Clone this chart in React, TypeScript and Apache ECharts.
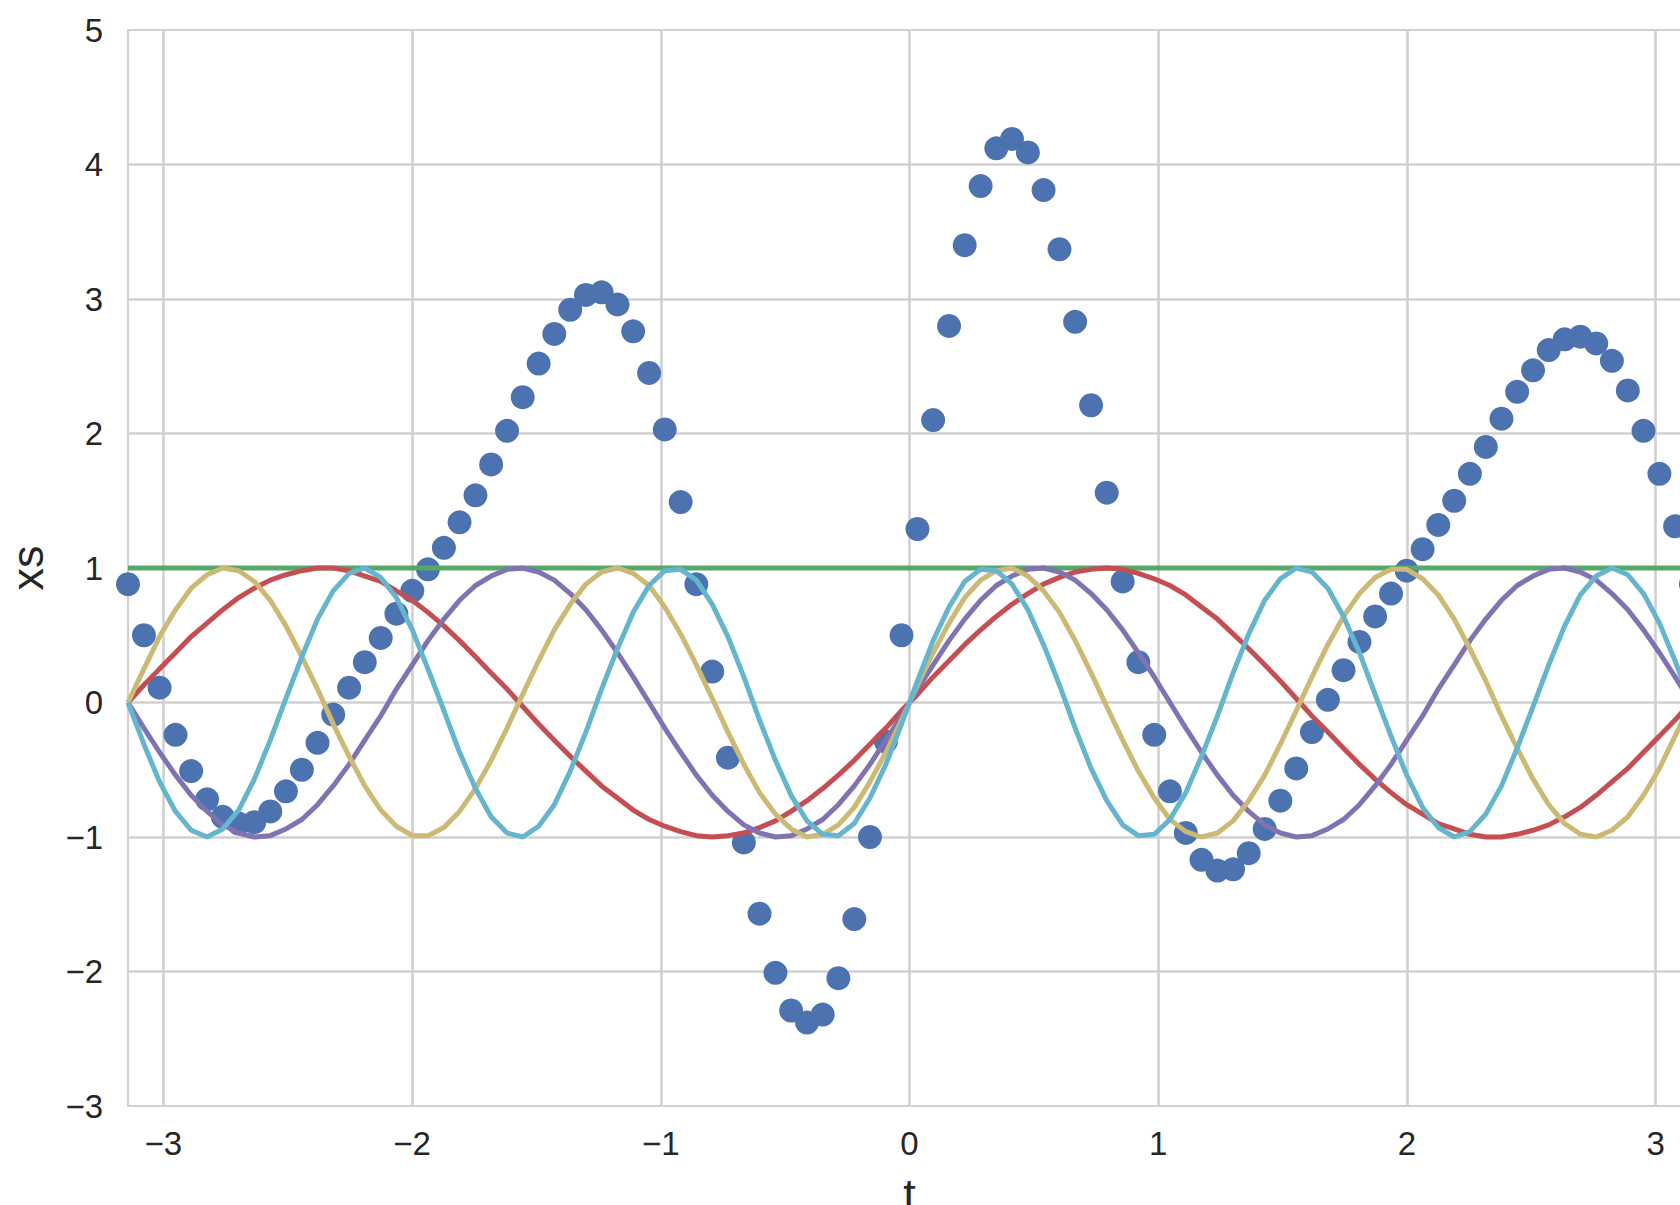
import React, { useEffect, useRef } from "react";
import * as echarts from "echarts";

// sample times t (from -pi to pi, 100 samples)
const tValues = [
  -3.142, -3.078, -3.015, -2.951, -2.888, -2.824, -2.761, -2.697, -2.634, -2.57,
  -2.507, -2.443, -2.38, -2.317, -2.253, -2.19, -2.126, -2.063, -1.999, -1.936,
  -1.872, -1.809, -1.745, -1.682, -1.618, -1.555, -1.491, -1.428, -1.364, -1.301,
  -1.238, -1.174, -1.111, -1.047, -0.984, -0.92, -0.857, -0.793, -0.73, -0.666,
  -0.603, -0.539, -0.476, -0.412, -0.349, -0.286, -0.222, -0.159, -0.095, -0.032,
  0.032, 0.095, 0.159, 0.222, 0.286, 0.349, 0.412, 0.476, 0.539, 0.603,
  0.666, 0.73, 0.793, 0.857, 0.92, 0.984, 1.047, 1.111, 1.174, 1.238,
  1.301, 1.364, 1.428, 1.491, 1.555, 1.618, 1.682, 1.745, 1.809, 1.872,
  1.936, 1.999, 2.063, 2.126, 2.19, 2.253, 2.317, 2.38, 2.443, 2.507,
  2.57, 2.634, 2.697, 2.761, 2.824, 2.888, 2.951, 3.015, 3.078, 3.142,
];

// blue dots (xs)
const xsValues = [
  0.88, 0.5, 0.11, -0.24, -0.51, -0.72, -0.85, -0.9, -0.89, -0.81,
  -0.66, -0.5, -0.3, -0.09, 0.11, 0.3, 0.48, 0.66, 0.83, 0.99,
  1.15, 1.34, 1.54, 1.77, 2.02, 2.27, 2.52, 2.74, 2.92, 3.03,
  3.05, 2.96, 2.76, 2.45, 2.03, 1.49, 0.88, 0.23, -0.41, -1.04,
  -1.57, -2.01, -2.29, -2.38, -2.32, -2.05, -1.61, -1.0, -0.29, 0.5,
  1.29, 2.1, 2.8, 3.4, 3.84, 4.12, 4.19, 4.09, 3.81, 3.37,
  2.83, 2.21, 1.56, 0.9, 0.3, -0.24, -0.66, -0.97, -1.17, -1.25,
  -1.24, -1.12, -0.94, -0.73, -0.49, -0.22, 0.02, 0.24, 0.45, 0.64,
  0.81, 0.98, 1.14, 1.32, 1.5, 1.7, 1.9, 2.11, 2.31, 2.47,
  2.62, 2.7, 2.72, 2.67, 2.54, 2.32, 2.02, 1.7, 1.31, 0.88,
];

// green line (constant level) endpoints
const greenLevel = [1, 1];

// red curve
const redValues = [
  0.0, 0.13, 0.25, 0.37, 0.49, 0.59, 0.69, 0.78, 0.85, 0.91,
  0.95, 0.98, 1.0, 1.0, 0.98, 0.94, 0.9, 0.83, 0.76, 0.67,
  0.57, 0.46, 0.34, 0.22, 0.1, -0.03, -0.16, -0.28, -0.4, -0.51,
  -0.62, -0.71, -0.8, -0.87, -0.92, -0.96, -0.99, -1.0, -0.99, -0.97,
  -0.93, -0.88, -0.81, -0.73, -0.64, -0.54, -0.43, -0.31, -0.19, -0.06,
  0.06, 0.19, 0.31, 0.43, 0.54, 0.64, 0.73, 0.81, 0.88, 0.93,
  0.97, 0.99, 1.0, 0.99, 0.96, 0.92, 0.87, 0.8, 0.71, 0.62,
  0.51, 0.4, 0.28, 0.16, 0.03, -0.1, -0.22, -0.34, -0.46, -0.57,
  -0.67, -0.76, -0.83, -0.9, -0.94, -0.98, -1.0, -1.0, -0.98, -0.95,
  -0.91, -0.85, -0.78, -0.69, -0.59, -0.49, -0.37, -0.25, -0.13, 0.0,
];

// purple curve
const purpleValues = [
  0.0, -0.19, -0.37, -0.54, -0.69, -0.81, -0.91, -0.97, -1.0, -0.99,
  -0.94, -0.87, -0.76, -0.62, -0.46, -0.28, -0.1, 0.1, 0.28, 0.46,
  0.62, 0.76, 0.87, 0.94, 0.99, 1.0, 0.97, 0.91, 0.81, 0.69,
  0.54, 0.37, 0.19,
  0.0, -0.19, -0.37, -0.54, -0.69, -0.81, -0.91, -0.97, -1.0, -0.99,
  -0.94, -0.87, -0.76, -0.62, -0.46, -0.28, -0.1, 0.1, 0.28, 0.46,
  0.62, 0.76, 0.87, 0.94, 0.99, 1.0, 0.97, 0.91, 0.81, 0.69,
  0.54, 0.37, 0.19,
  0.0, -0.19, -0.37, -0.54, -0.69, -0.81, -0.91, -0.97, -1.0, -0.99,
  -0.94, -0.87, -0.76, -0.62, -0.46, -0.28, -0.1, 0.1, 0.28, 0.46,
  0.62, 0.76, 0.87, 0.94, 0.99, 1.0, 0.97, 0.91, 0.81, 0.69,
  0.54, 0.37, 0.19,
  0.0,
];

// yellow curve
const yellowValues = [
  0.0, 0.25, 0.49, 0.69, 0.85, 0.95, 1.0, 0.98, 0.9, 0.76,
  0.57, 0.34, 0.1, -0.16, -0.4, -0.62, -0.8, -0.92, -0.99, -0.99,
  -0.93, -0.81, -0.64, -0.43, -0.19, 0.06, 0.31, 0.54, 0.73, 0.88,
  0.97, 1.0, 0.96, 0.87, 0.71, 0.51, 0.28, 0.03, -0.22, -0.46,
  -0.67, -0.83, -0.94, -1.0, -0.98, -0.91, -0.78, -0.59, -0.37, -0.13,
  0.13, 0.37, 0.59, 0.78, 0.91, 0.98, 1.0, 0.94, 0.83, 0.67,
  0.46, 0.22, -0.03, -0.28, -0.51, -0.71, -0.87, -0.96, -1.0, -0.97,
  -0.88, -0.73, -0.54, -0.31, -0.06, 0.19, 0.43, 0.64, 0.81, 0.93,
  0.99, 0.99, 0.92, 0.8, 0.62, 0.4, 0.16, -0.1, -0.34, -0.57,
  -0.76, -0.9, -0.98, -1.0, -0.95, -0.85, -0.69, -0.49, -0.25, 0.0,
];

// cyan curve
const cyanValues = [
  0.0, -0.31, -0.59, -0.81, -0.95, -1.0, -0.94, -0.8, -0.57, -0.28,
  0.03, 0.34, 0.62, 0.83, 0.96, 1.0, 0.93, 0.78, 0.54, 0.25,
  -0.06, -0.37, -0.64, -0.85, -0.97, -1.0, -0.92, -0.76, -0.51, -0.22,
  0.1, 0.4, 0.67, 0.87, 0.98, 0.99, 0.91, 0.73, 0.49, 0.19,
  -0.13, -0.43, -0.69, -0.88, -0.98, -0.99, -0.9, -0.71, -0.46, -0.16,
  0.16, 0.46, 0.71, 0.9, 0.99, 0.98, 0.88, 0.69, 0.43, 0.13,
  -0.19, -0.49, -0.73, -0.91, -0.99, -0.98, -0.87, -0.67, -0.4, -0.1,
  0.22, 0.51, 0.76, 0.92, 1.0, 0.97, 0.85, 0.64, 0.37, 0.06,
  -0.25, -0.54, -0.78, -0.93, -1.0, -0.96, -0.83, -0.62, -0.34, -0.03,
  0.28, 0.57, 0.8, 0.94, 1.0, 0.95, 0.81, 0.59, 0.31, 0.0,
];

const FONT = "'Liberation Sans', Arial, Helvetica, sans-serif";
const TEXT_COLOR = "#262626";
const GRID_COLOR = "#d0d0d0";

const fmtTick = (v: number) => {
  if (Math.abs(v - Math.round(v)) > 1e-6) return "";
  const r = Math.round(v);
  return r < 0 ? "\u2212" + Math.abs(r) : String(r);
};

const pair = (vals: number[]) => tValues.map((t, i) => [t, vals[i]]);

export default function App() {
  const ref = useRef<HTMLDivElement>(null);

  useEffect(() => {
    if (!ref.current) return;
    const chart = echarts.init(ref.current, undefined, { renderer: "svg" });
    const lineSeries = (name: string, vals: number[], color: string) => ({
      name,
      type: "line",
      data: pair(vals),
      showSymbol: false,
      symbol: "none",
      clip: true,
      lineStyle: { color, width: 5 },
      itemStyle: { color },
    });
    chart.setOption({
      animation: false,
      backgroundColor: "#ffffff",
      grid: {
        left: 128,
        top: 30,
        width: 1563,
        height: 1076,
        show: true,
        borderColor: GRID_COLOR,
        borderWidth: 2.2,
        backgroundColor: "transparent",
        containLabel: false,
        outerBoundsMode: "none",
      },
      xAxis: {
        type: "value",
        min: tValues[0],
        max: tValues[tValues.length - 1],
        splitNumber: 6,
        minInterval: 1,
        maxInterval: 1,
        axisLine: { show: false },
        axisTick: { show: false },
        axisLabel: {
          margin: 21,
          fontSize: 33,
          color: TEXT_COLOR,
          fontFamily: FONT,
          formatter: fmtTick,
          showMinLabel: false,
          showMaxLabel: false,
        },
        splitLine: {
          show: true,
          showMinLine: false,
          showMaxLine: false,
          lineStyle: { color: GRID_COLOR, width: 2.6 },
        },
        name: "t",
        nameLocation: "middle",
        nameGap: 66,
        nameTextStyle: { fontSize: 45, color: TEXT_COLOR, fontFamily: FONT },
      },
      yAxis: {
        type: "value",
        min: -3,
        max: 5,
        interval: 1,
        axisLine: { show: false },
        axisTick: { show: false },
        axisLabel: {
          margin: 25,
          fontSize: 33,
          color: TEXT_COLOR,
          fontFamily: FONT,
          formatter: fmtTick,
        },
        splitLine: {
          show: true,
          showMinLine: false,
          showMaxLine: false,
          lineStyle: { color: GRID_COLOR, width: 2.6 },
        },
        name: "xs",
        nameLocation: "middle",
        nameGap: 78,
        nameTextStyle: { fontSize: 45, color: TEXT_COLOR, fontFamily: FONT },
      },
      series: [
        {
          name: "xs",
          type: "scatter",
          data: pair(xsValues),
          symbol: "circle",
          symbolSize: 24,
          clip: true,
          itemStyle: { color: "#4C72B0", opacity: 1 },
        },
        {
          name: "level",
          type: "line",
          data: [
            [tValues[0], greenLevel[0]],
            [tValues[tValues.length - 1], greenLevel[1]],
          ],
          showSymbol: false,
          symbol: "none",
          lineStyle: { color: "#55A868", width: 5 },
          itemStyle: { color: "#55A868" },
        },
        lineSeries("red", redValues, "#C44E52"),
        lineSeries("purple", purpleValues, "#8172B2"),
        lineSeries("yellow", yellowValues, "#CCB974"),
        lineSeries("cyan", cyanValues, "#64B5CD"),
      ],
    });
    return () => chart.dispose();
  }, []);

  return (
    <div
      ref={ref}
      style={{ position: "fixed", left: 0, top: 0, width: 1680, height: 1205, background: "#fff" }}
    />
  );
}
